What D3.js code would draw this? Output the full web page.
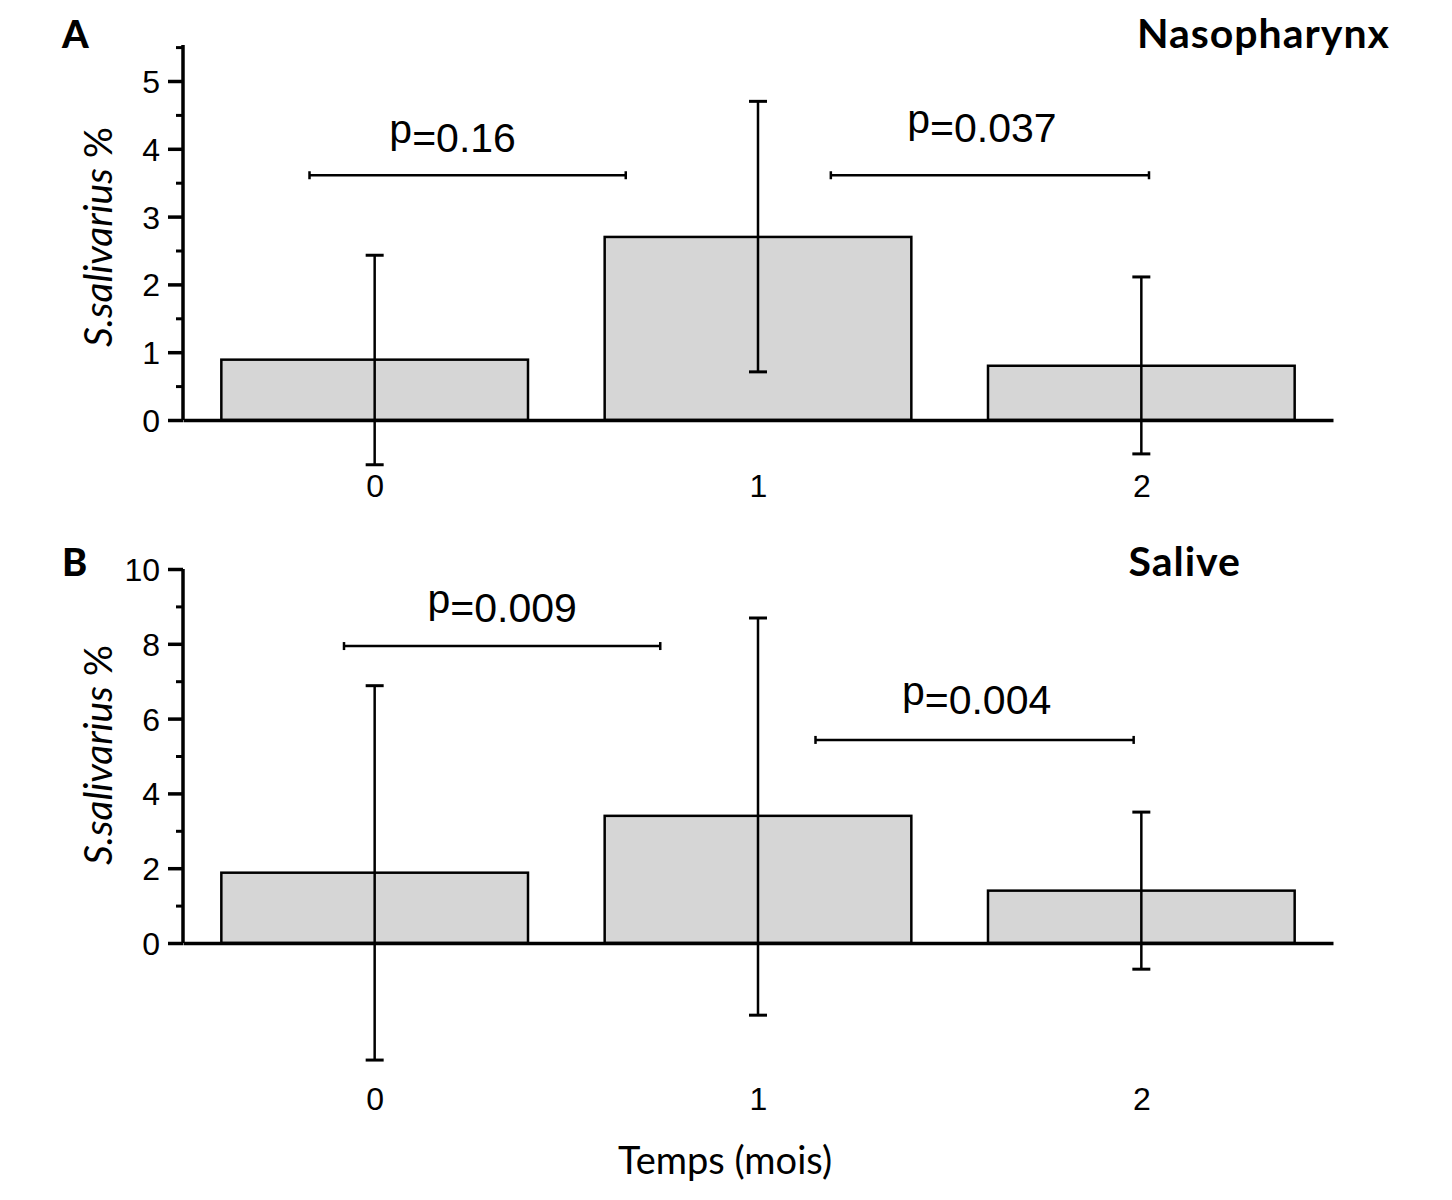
<!DOCTYPE html>
<html>
<head>
<meta charset="utf-8">
<title>S. salivarius</title>
<style>
  body {margin:0; background:#fff;}
  .tick text {font-family: "Liberation Sans", Arial, sans-serif; fill:#000;}
</style>
</head>
<body>
<div id="chart"></div>
<script src="https://d3js.org/d3.v7.min.js"></script>
<script>
// months
var categories = [0, 1, 2];

// panel A - Nasopharynx
var nasoMean = [0.89, 2.70, 0.80];
var nasoHigh = [2.43, 4.70, 2.11];
var nasoLow = [-0.66, 0.71, -0.50];
var nasoTicks = [0, 1, 2, 3, 4, 5];
var nasoPairs = [
  {from: -0.17, to: 0.655, y: 3.61, label: "0.16"},
  {from: 1.19, to: 2.02, y: 3.61, label: "0.037"}
];

// panel B - Salive
var saliveMean = [1.88, 3.40, 1.40];
var saliveHigh = [6.88, 8.69, 3.50];
var saliveLow = [-3.13, -1.93, -0.70];
var saliveTicks = [0, 2, 4, 6, 8, 10];
var salivePairs = [
  {from: -0.08, to: 0.745, y: 7.94, label: "0.009"},
  {from: 1.15, to: 1.98, y: 5.43, label: "0.004"}
];

var W = 1452, H = 1200;
var svg = d3.select("#chart").append("svg").attr("width", W).attr("height", H);

var x = d3.scaleLinear().domain([-0.5, 2.5]).range([183, 1333]);

function panel(o) {
  var y = d3.scaleLinear().domain([0, o.max]).range([o.y0, o.y0 - o.max * o.unit]);
  var g = svg.append("g");

  // bars
  g.selectAll("rect.bar").data(categories).join("rect")
    .attr("class", "bar")
    .attr("x", d => x(d - 0.4))
    .attr("width", x(0.4) - x(-0.4))
    .attr("y", (d, i) => y(o.mean[i]))
    .attr("height", (d, i) => y(0) - y(o.mean[i]))
    .attr("fill", "#d6d6d6").attr("stroke", "#000").attr("stroke-width", 2.5);

  // error bars
  var eb = g.selectAll("g.err").data(categories).join("g").attr("class", "err");
  eb.append("line")
    .attr("x1", d => x(d)).attr("x2", d => x(d))
    .attr("y1", (d, i) => y(o.high[i])).attr("y2", (d, i) => y(o.low[i]))
    .attr("stroke", "#000").attr("stroke-width", 2.5);
  eb.append("line")
    .attr("x1", d => x(d) - 9).attr("x2", d => x(d) + 9)
    .attr("y1", (d, i) => y(o.high[i])).attr("y2", (d, i) => y(o.high[i]))
    .attr("stroke", "#000").attr("stroke-width", 3);
  eb.append("line")
    .attr("x1", d => x(d) - 9).attr("x2", d => x(d) + 9)
    .attr("y1", (d, i) => y(o.low[i])).attr("y2", (d, i) => y(o.low[i]))
    .attr("stroke", "#000").attr("stroke-width", 3);

  // y axis
  var minor = d3.range(0, o.max + 0.001, o.minorStep).filter(v => o.ticks.indexOf(v) < 0);
  g.append("g").attr("transform", "translate(183,0)")
    .call(d3.axisLeft(y).tickValues(minor).tickSize(7).tickFormat(""))
    .call(a => a.select(".domain").remove())
    .selectAll("line").attr("stroke-width", 3);
  var ya = g.append("g").attr("transform", "translate(183,0)")
    .call(d3.axisLeft(y).tickValues(o.ticks).tickFormat(d3.format("d"))
      .tickSize(15).tickPadding(8).tickSizeOuter(0));
  ya.select(".domain").attr("d", "M0," + y(0) + "V" + (y(0) - o.axisLen)).attr("stroke-width", 3.5);
  ya.selectAll("line").attr("stroke-width", 3.5);
  ya.selectAll("text").style("font-size", "32px").attr("dy", "0.36em");

  // x axis
  var xa = g.append("g").attr("transform", "translate(0," + y(0) + ")")
    .call(d3.axisBottom(x).tickValues(categories).tickFormat(d3.format("d"))
      .tickSize(0).tickPadding(o.labelPad).tickSizeOuter(0));
  xa.select(".domain").attr("stroke-width", 3.5);
  xa.selectAll("text").style("font-size", "32px");

  // significance brackets
  var br = g.selectAll("g.pair").data(o.pairs).join("g").attr("class", "pair");
  br.append("line")
    .attr("x1", d => x(d.from)).attr("x2", d => x(d.to))
    .attr("y1", d => y(d.y)).attr("y2", d => y(d.y))
    .attr("stroke", "#000").attr("stroke-width", 2.5);
  br.append("line")
    .attr("x1", d => x(d.from)).attr("x2", d => x(d.from))
    .attr("y1", d => y(d.y) - 4).attr("y2", d => y(d.y) + 4)
    .attr("stroke", "#000").attr("stroke-width", 2.5);
  br.append("line")
    .attr("x1", d => x(d.to)).attr("x2", d => x(d.to))
    .attr("y1", d => y(d.y) - 4).attr("y2", d => y(d.y) + 4)
    .attr("stroke", "#000").attr("stroke-width", 2.5);
  var t = br.append("text")
    .attr("x", (d, i) => (x(d.from) + x(d.to)) / 2 + o.textShift[i])
    .attr("y", (d, i) => y(d.y) - o.textGap[i])
    .attr("text-anchor", "middle")
    .attr("font-family", "'Liberation Sans', Arial, sans-serif")
    .attr("font-size", 41);
  t.append("tspan").attr("dy", -9).text("p");
  t.append("tspan").attr("dy", 9).text(d => "=" + d.label);

  // y label
  var lab = g.append("text")
    .attr("transform", "translate(112," + o.labelY + ") rotate(-90)")
    .attr("text-anchor", "middle")
    .attr("font-family", "Lato, sans-serif").attr("font-size", 39);
  lab.append("tspan").attr("font-style", "italic").text("S.salivarius");
  lab.append("tspan").text(" %");

  // panel letter and title
  g.append("text").attr("x", 62).attr("y", o.titleY)
    .attr("font-family", "Lato, sans-serif").attr("font-weight", 900).attr("font-size", 38)
    .text(o.letter);
  g.append("text").attr("x", o.titleX).attr("y", o.titleY).attr("text-anchor", "end")
    .attr("font-family", "Lato, sans-serif").attr("font-weight", 700).attr("font-size", 41)
    .attr("letter-spacing", 1)
    .text(o.title);
}

panel({
  y0: 420, unit: 67.8, max: 5.5, axisLen: 375, minorStep: 0.5, ticks: nasoTicks,
  mean: nasoMean, high: nasoHigh, low: nasoLow, pairs: nasoPairs,
  labelPad: 54, textShift: [-15, -8], textGap: [23, 33], labelY: 237,
  letter: "A", title: "Nasopharynx", titleX: 1390, titleY: 48
});
panel({
  y0: 943, unit: 37.4, max: 10, axisLen: 374, minorStep: 1, ticks: saliveTicks,
  mean: saliveMean, high: saliveHigh, low: saliveLow, pairs: salivePairs,
  labelPad: 144, textShift: [0, 2], textGap: [24, 26], labelY: 755,
  letter: "B", title: "Salive", titleX: 1241, titleY: 576
});

svg.append("text").attr("x", 725).attr("y", 1174).attr("text-anchor", "middle")
  .attr("font-family", "Lato, sans-serif").attr("font-size", 38)
  .text("Temps (mois)");
</script>
</body>
</html>
